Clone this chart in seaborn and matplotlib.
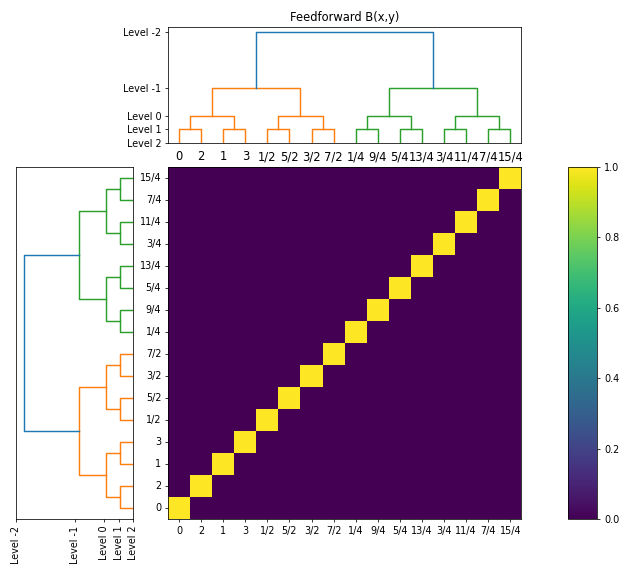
import numpy as np
import pandas as pd
import matplotlib
matplotlib.use("Agg")
import matplotlib.pyplot as plt
import seaborn as sns

# leaf order (same for rows and columns)
leaf_labels = ["0", "2", "1", "3", "1/2", "5/2", "3/2", "7/2",
               "1/4", "9/4", "5/4", "13/4", "3/4", "11/4", "7/4", "15/4"]
# dendrogram levels (bottom -> top) and merge heights
level_names = ["Level 2", "Level 1", "Level 0", "Level -1", "Level -2"]
level_heights = [0, 1, 2, 4, 8]
# B(x,y): ones on the diagonal, zeros elsewhere
diagonal_values = [1.0] * 16
colorbar_ticks = [0.0, 0.2, 0.4, 0.6, 0.8, 1.0]

link_colors = {"root": "C0", "left": "C1", "right": "C2"}


def build_links(n_leaves, heights):
    # pairwise merging of neighbouring clusters, one level at a time
    clusters = [(i + 0.5, 0.0) for i in range(n_leaves)]
    links = []
    for h in heights[1:]:
        merged = []
        for a, b in zip(clusters[0::2], clusters[1::2]):
            mid = (a[0] + b[0]) / 2
            if h == max(heights):
                color = link_colors["root"]
            elif mid < n_leaves / 2:
                color = link_colors["left"]
            else:
                color = link_colors["right"]
            links.append(([a[0], a[0], b[0], b[0]], [a[1], h, h, b[1]], color))
            merged.append((mid, h))
        clusters = merged
    return links


n = len(leaf_labels)
b_df = pd.DataFrame(np.diag(diagonal_values), index=leaf_labels, columns=leaf_labels)
links = build_links(n, level_heights)

W, H = 623, 565
fig = plt.figure(figsize=(9, 9 * H / W))


def px_axes(x0, y0, x1, y1):
    return fig.add_axes([x0 / W, 1 - y1 / H, (x1 - x0) / W, (y1 - y0) / H])


ax_top = px_axes(168, 26.7, 521.3, 143.3)
ax_left = px_axes(16.3, 166.7, 133.3, 519)
ax_hm = px_axes(168, 166.7, 521.3, 519)
ax_cb = px_axes(568, 166.7, 597.3, 519)

# heatmap
sns.heatmap(b_df, cmap="viridis", vmin=0, vmax=1, ax=ax_hm, cbar_ax=ax_cb,
            xticklabels=leaf_labels, yticklabels=leaf_labels)
ax_hm.set_ylim(0, n)
ax_hm.set_xlabel("")
ax_hm.set_ylabel("")
plt.setp(ax_hm.get_xticklabels(), rotation=0)
plt.setp(ax_hm.get_yticklabels(), rotation=0)
for s in ax_hm.spines.values():
    s.set_visible(True)
cb = ax_hm.collections[0].colorbar
cb.set_ticks(colorbar_ticks)
cb.outline.set_visible(True)
cb.outline.set_linewidth(0.8)
cb.outline.set_edgecolor("black")

# top dendrogram
top_max = 8.4
for xs, ys, c in links:
    ax_top.plot(xs, ys, color=c, lw=1.5)
ax_top.set_xlim(0, n)
ax_top.set_ylim(0, top_max)
ax_top.set_xticks(np.arange(n) + 0.5)
ax_top.set_xticklabels(leaf_labels, fontsize=12)
# hide the leaf tick marks but keep their spacing
for line in ax_top.get_xticklines():
    line.set_visible(False)
ax_top.set_yticks(level_heights)
ax_top.set_yticklabels(level_names)
ax_top.set_title("Feedforward B(x,y)")

# left dendrogram
left_max = 8.6
for xs, ys, c in links:
    ax_left.plot(ys, xs, color=c, lw=1.5)
ax_left.set_ylim(0, n)
ax_left.set_xlim(left_max, 0)
ax_left.set_yticks([])
ax_left.set_xticks(np.array(level_heights) / max(level_heights) * left_max)
ax_left.set_xticklabels(level_names, rotation=90)

fig.savefig("out.png", dpi=W / 9)
plt.close(fig)
